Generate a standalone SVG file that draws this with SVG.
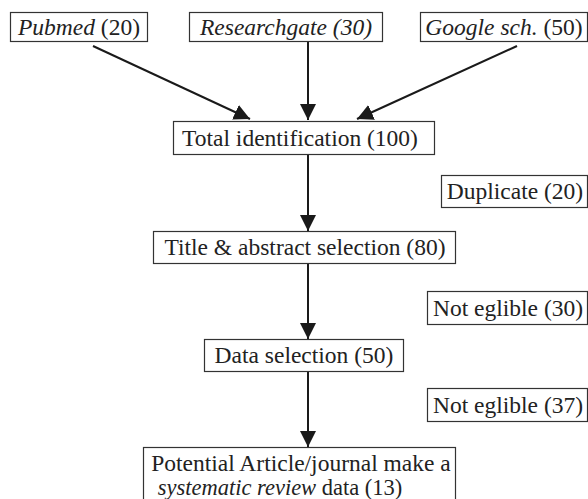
<svg xmlns="http://www.w3.org/2000/svg" width="588" height="499" viewBox="0 0 588 499">
<style>
.box{fill:#fff;stroke:#333;stroke-width:1.2}
text{font-family:'Liberation Serif','Times New Roman',Times,serif;font-size:23.5px;fill:#222;text-anchor:middle}
.i{font-style:italic}
.c{stroke:#1a1a1a;stroke-width:2;fill:none;marker-end:url(#ah)}
</style>
<defs>
<marker id="ah" markerUnits="userSpaceOnUse" markerWidth="17" markerHeight="16" refX="16" refY="8" orient="auto">
<path d="M0,0 L16,8 L0,16 z" fill="#1a1a1a"/>
</marker>
</defs>
<rect width="588" height="499" fill="#fff"/>
<g id="connectors">
<line class="c" x1="93" y1="46" x2="250" y2="119"/>
<line class="c" x1="308" y1="42" x2="308" y2="120"/>
<line class="c" x1="517" y1="46" x2="357" y2="119"/>
<line class="c" x1="308" y1="155" x2="308" y2="231"/>
<line class="c" x1="308" y1="264" x2="308" y2="339"/>
<line class="c" x1="308" y1="372" x2="308" y2="447"/>
</g>
<g id="pubmed">
<rect class="box" x="10.5" y="12.5" width="137" height="29"/>
<text x="79" y="35"><tspan class="i">Pubmed</tspan> (20)</text>
</g>
<g id="researchgate">
<rect class="box" x="189.5" y="12.5" width="193" height="29"/>
<text class="i" x="286" y="35">Researchgate (30)</text>
</g>
<g id="google">
<rect class="box" x="420.5" y="12.5" width="167" height="29"/>
<text x="504" y="35"><tspan class="i">Google sch.</tspan> (50)</text>
</g>
<g id="total">
<rect class="box" x="173.5" y="121.5" width="261" height="33"/>
<text x="300" y="146">Total identification (100)</text>
</g>
<g id="duplicate">
<rect class="box" x="441.5" y="175.5" width="146" height="32"/>
<text x="515" y="199">Duplicate (20)</text>
</g>
<g id="title">
<rect class="box" x="153.5" y="231.5" width="302" height="32"/>
<text x="305" y="255">Title &amp; abstract selection (80)</text>
</g>
<g id="noteligible30">
<rect class="box" x="427.5" y="291.5" width="160" height="33"/>
<text x="508" y="316">Not eglible (30)</text>
</g>
<g id="data">
<rect class="box" x="204.5" y="339.5" width="199" height="32"/>
<text x="304" y="363">Data selection (50)</text>
</g>
<g id="noteligible37">
<rect class="box" x="427.5" y="388.5" width="160" height="33"/>
<text x="508" y="413">Not eglible (37)</text>
</g>
<g id="potential">
<rect class="box" x="143.5" y="447.5" width="312" height="60"/>
<text x="301" y="471">Potential Article/journal make a</text>
<text x="280" y="495" style="font-size:22.5px"><tspan class="i">systematic review</tspan> data (13)</text>
</g>
</svg>
